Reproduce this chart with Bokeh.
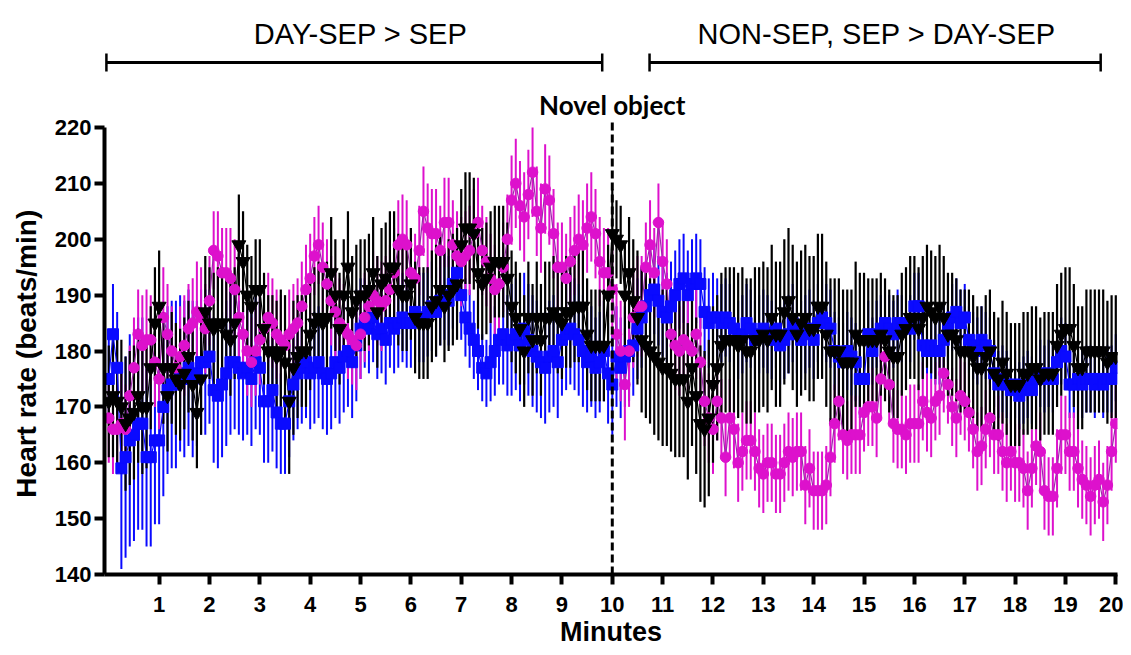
from bokeh.plotting import figure
from bokeh.models import ColumnDataSource, Range1d, FixedTicker, Label
from bokeh.embed import file_html
from bokeh.resources import INLINE

# ---------------- data ----------------
SAMPLE_SECONDS = 5
X_TICKS = list(range(1, 21))
Y_TICKS = [140, 150, 160, 170, 180, 190, 200, 210, 220]

# blue squares
BLUE = [175,
 183,177,159,161,164,165,167,167,161,161,164,164,
 170,173,174,174,176,175,177,175,176,178,178,179,
 173,172,174,176,178,178,177,176,177,175,178,177,
 171,171,173,169,167,167,171,174,176,177,178,176,
 177,178,176,175,176,178,177,179,180,178,181,184,
 185,184,186,183,184,182,185,184,185,186,185,185,
 187,186,186,187,188,187,189,190,189,192,194,190,
 186,184,182,180,177,176,178,180,182,183,181,182,
 183,181,184,182,180,179,178,177,179,180,178,182,
 183,184,183,182,180,178,179,177,178,180,176,174,
 179,177,179,180,181,184,186,188,190,191,189,187,
 186,188,190,192,193,190,192,193,192,187,185,186,
 186,185,186,185,184,182,183,185,184,182,183,184,
 183,182,184,181,182,183,185,183,182,183,184,182,
 185,186,185,184,180,179,178,180,179,178,175,175,
 183,180,183,184,185,184,183,185,184,185,184,188,
 188,181,180,181,180,180,182,184,186,187,185,186,
 182,181,180,182,181,180,176,174,175,174,173,174,
 172,173,174,173,175,176,175,176,175,178,180,179,
 174,174,175,174,175,175,174,175,174,175,175,177]
BLUE_SEM = [8,
 9,10,18,18,19,19,19,19,16,16,15,15,
 16,15,15,15,14,14,14,14,13,13,13,12,
 13,13,13,13,13,12,12,12,12,12,12,12,
 11,11,11,10,9,9,10,10,10,10,10,10,
 10,10,10,10,10,10,10,10,10,10,10,9,
 8,8,8,8,8,8,8,8,8,8,8,8,
 8,8,8,8,8,8,8,8,8,8,8,8,
 7,7,7,7,6,6,7,8,8,9,9,10,
 10,10,10,10,10,10,10,10,10,10,10,10,
 10,10,10,10,10,9,9,9,9,9,9,9,
 9,9,9,9,9,9,9,8,8,8,8,8,
 8,8,8,8,8,8,8,8,8,8,8,8,
 7,7,7,7,7,7,7,7,7,7,7,7,
 7,7,7,7,7,7,7,7,7,7,7,7,
 7,7,7,7,7,7,7,7,7,7,7,7,
 6,6,6,6,6,6,6,6,6,6,6,6,
 6,6,6,6,6,6,6,6,6,6,6,6,
 6,6,6,6,6,6,6,6,6,6,6,6,
 6,6,6,6,6,6,6,6,6,6,6,6,
 6,6,6,6,6,6,6,6,6,6,6,6]

# magenta circles
MAGENTA = [168,
 166,166,167,166,172,177,183,181,182,182,178,175,
 186,183,180,177,179,181,184,185,187,186,184,189,
 198,197,194,194,193,191,186,183,180,178,180,182,
 184,186,185,183,182,181,183,184,185,188,191,193,
 197,199,195,192,189,187,185,184,183,182,181,183,
 186,188,190,189,188,189,191,194,199,200,199,194,
 193,198,205,202,201,201,198,203,203,199,197,196,
 197,198,201,203,198,196,193,191,192,195,200,207,
 210,206,204,208,212,205,202,209,207,201,195,195,
 193,196,198,200,199,202,204,201,196,194,194,191,
 183,180,174,180,186,188,188,195,199,194,203,196,
 192,183,181,180,182,181,180,183,178,171,168,166,
 171,168,161,168,166,160,162,164,164,162,159,158,
 160,160,158,158,160,162,161,162,162,156,159,155,
 155,155,156,161,167,171,165,164,165,165,165,169,
 170,170,168,175,179,174,167,166,166,165,167,167,
 167,171,169,168,171,172,176,174,170,168,172,171,
 169,166,162,163,166,168,165,165,162,160,162,160,
 160,159,155,159,163,162,155,154,154,159,165,165,
 162,162,159,157,156,154,156,157,153,156,162,167]
MAGENTA_SEM = [8,
 8,8,9,8,9,9,8,9,9,8,8,9,
 9,9,8,8,9,9,8,8,9,9,8,8,
 7,8,8,8,9,9,8,8,8,8,8,8,
 8,8,8,8,8,8,8,8,8,8,8,8,
 7,7,8,8,8,8,8,8,8,8,8,8,
 8,8,8,8,8,8,8,8,8,8,8,8,
 8,8,8,8,8,8,8,8,8,8,8,8,
 8,8,8,8,8,8,8,8,8,8,8,8,
 8,8,8,8,8,8,8,8,8,8,8,8,
 8,8,8,8,8,8,8,8,8,8,8,8,
 9,9,10,10,9,9,9,8,8,8,7,7,
 8,8,8,8,8,8,8,8,8,8,8,8,
 7,7,7,7,7,7,7,7,7,7,7,7,
 7,7,7,7,7,7,7,7,7,7,7,7,
 7,7,7,7,7,7,7,7,7,7,7,7,
 7,7,7,7,7,7,7,7,7,7,7,7,
 7,7,7,7,7,7,7,7,7,7,7,7,
 7,7,7,7,7,7,7,7,7,7,7,7,
 7,7,7,7,7,7,7,7,7,7,7,7,
 7,7,7,7,7,7,7,7,7,7,7,7]

# black inverted triangles
BLACK = [171,
 172,171,170,167,168,169,172,170,170,177,185,188,
 177,172,177,175,174,176,179,174,169,175,187,185,
 184,185,185,183,182,185,199,196,190,188,191,191,
 184,180,180,179,180,178,171,177,179,180,180,183,
 185,186,185,186,194,190,184,190,195,187,189,190,
 190,191,194,187,192,193,195,195,191,190,190,192,
 186,185,185,185,188,189,191,188,190,191,192,199,
 202,202,201,194,192,193,195,196,196,196,193,188,
 186,184,180,186,182,186,182,186,186,187,186,185,
 187,187,188,188,188,183,181,181,181,181,190,201,
 200,199,190,194,189,186,182,181,180,179,178,177,
 177,176,175,175,175,171,177,172,167,166,168,174,
 177,181,182,182,182,181,182,180,180,182,182,183,
 182,186,183,183,187,189,186,183,185,186,184,184,
 188,188,183,180,180,180,178,178,178,183,182,182,
 182,182,182,183,182,180,179,179,183,184,186,186,
 184,186,188,187,186,188,186,183,183,182,180,180,
 180,179,177,177,179,180,176,175,178,176,174,174,
 174,176,176,177,177,175,176,176,176,181,183,184,
 184,181,177,177,180,180,180,180,180,178,179,179]
BLACK_SEM = [10,
 11,12,12,12,12,12,12,12,11,11,10,10,
 10,10,10,10,10,10,10,10,10,10,10,10,
 10,10,10,10,10,10,9,9,9,9,9,9,
 10,10,10,10,11,12,13,12,11,10,10,10,
 10,10,10,10,10,10,10,10,10,10,10,10,
 10,10,10,10,10,10,10,10,10,10,10,10,
 10,10,10,10,10,10,10,10,10,10,10,10,
 10,10,10,10,10,10,10,10,10,10,10,10,
 10,10,10,10,10,10,10,10,10,10,10,10,
 10,10,10,10,10,10,10,10,10,10,9,8,
 7,7,9,10,11,12,13,13,13,14,14,14,
 14,14,14,14,14,14,14,14,14,14,14,14,
 13,13,13,13,13,13,13,13,13,13,13,13,
 13,13,13,13,13,13,13,13,13,13,13,13,
 13,13,13,13,13,13,13,13,13,13,12,12,
 11,11,11,11,11,11,11,11,11,11,11,11,
 11,11,11,11,11,11,11,11,11,11,11,11,
 11,11,11,11,11,11,11,11,11,11,11,11,
 11,11,11,11,11,11,11,11,11,11,11,11,
 11,11,11,11,11,11,11,11,11,11,11,11]

TOP_LEFT_TEXT = "DAY-SEP > SEP"
TOP_RIGHT_TEXT = "NON-SEP, SEP > DAY-SEP"
EVENT_TEXT = "Novel object"
EVENT_TIME = 10
Y_LABEL = "Heart rate (beats/min)"
X_LABEL = "Minutes"

# ---------------- styling ----------------
C_BLUE = "#0a0aff"
C_MAG = "#dd11cc"
C_MAG_LINE = "#9a2aa8"
C_BLACK = "#000000"
FONT = "Liberation Sans"

minutes = [i * SAMPLE_SECONDS / 60.0 for i in range(len(BLUE))]

def src(vals, sems):
    return ColumnDataSource(dict(
        t=minutes, v=vals,
        lo=[a - b for a, b in zip(vals, sems)],
        hi=[a + b for a, b in zip(vals, sems)]))

s_blue = src(BLUE, BLUE_SEM)
s_mag = src(MAGENTA, MAGENTA_SEM)
s_blk = src(BLACK, BLACK_SEM)

# frame: page x 104..1117, page y 8..574 ; 50.35 px/min, 5.5875 px/unit
PX_PER_UNIT = 5.5875
Y_TOP = 241.3          # value at the top of the frame (annotation area)
DASH_TOP = 221.6       # where the event line starts

def yv(page_y):
    return 140 + (574 - page_y) / PX_PER_UNIT

p = figure(width=1123, height=655, x_range=Range1d(-0.085, 20.034),
           y_range=Range1d(140, Y_TOP),
           toolbar_location=None, output_backend="svg",
           min_border_left=104, min_border_right=6, min_border_top=8,
           min_border_bottom=81)
p.outline_line_color = None
p.grid.visible = False
p.background_fill_color = "white"
p.border_fill_color = "white"

# error bars first
for s, c, w in ((s_blue, C_BLUE, 2.0), (s_mag, C_MAG, 2.0), (s_blk, C_BLACK, 2.2)):
    p.segment(x0="t", y0="lo", x1="t", y1="hi", source=s, line_color=c, line_width=w)
# connecting lines
p.line("t", "v", source=s_blue, line_color=C_BLUE, line_width=1.2)
p.line("t", "v", source=s_mag, line_color=C_MAG_LINE, line_width=1.2)
p.line("t", "v", source=s_blk, line_color=C_BLACK, line_width=1.2)
# markers
p.scatter("t", "v", source=s_blue, marker="square", size=11,
          fill_color=C_BLUE, line_color=C_BLUE)
p.scatter("t", "v", source=s_mag, marker="circle", size=10.5,
          fill_color=C_MAG, line_color=C_MAG)
p.scatter("t", "v", source=s_blk, marker="inverted_triangle", size=14,
          fill_color=C_BLACK, line_color=C_BLACK)

# event line (novel object)
p.segment(x0=[EVENT_TIME], y0=[140], x1=[EVENT_TIME], y1=[DASH_TOP],
          line_color="black", line_width=3, line_dash="8 4")

# top brackets (annotation coordinates)
brx0 = [-0.047, 10.74]
brx1 = [9.8, 19.7]
p.segment(x0=brx0, y0=[yv(62)] * 2, x1=brx1, y1=[yv(62)] * 2,
          line_color="black", line_width=3)
ends = brx0 + brx1
p.segment(x0=ends, y0=[yv(53)] * 4, x1=ends, y1=[yv(71)] * 4,
          line_color="black", line_width=2.5)

p.add_layout(Label(x=5.0, y=yv(33), text=TOP_LEFT_TEXT, text_align="center",
                   text_baseline="alphabetic", text_font=FONT,
                   text_font_size="29px", text_color="black"))
p.add_layout(Label(x=15.25, y=yv(33), text=TOP_RIGHT_TEXT, text_align="center",
                   text_baseline="alphabetic", text_font=FONT,
                   text_font_size="29px", text_color="black"))
p.add_layout(Label(x=EVENT_TIME, y=yv(104), text=EVENT_TEXT, text_align="center",
                   text_baseline="alphabetic", text_font="Lato",
                   text_font_style="bold", text_font_size="26px",
                   text_color="black"))

for ax in (p.xaxis[0], p.yaxis[0]):
    ax.axis_line_width = 4
    ax.axis_line_color = "black"
    ax.major_tick_line_width = 4
    ax.major_tick_line_color = "black"
    ax.major_tick_out = 10
    ax.major_tick_in = 0
    ax.minor_tick_line_color = None
    ax.major_label_text_font = FONT
    ax.major_label_text_font_style = "bold"
    ax.major_label_text_font_size = "22px"
    ax.major_label_text_color = "black"
    ax.axis_label_text_font = FONT
    ax.axis_label_text_font_style = "bold"
    ax.axis_label_text_color = "black"

p.xaxis.axis_label_text_font_size = "27px"
p.yaxis.axis_label_text_font_size = "28px"
p.xaxis.ticker = FixedTicker(ticks=X_TICKS)
p.yaxis.ticker = FixedTicker(ticks=Y_TICKS)
p.yaxis.bounds = (Y_TICKS[0], Y_TICKS[-1])
p.xaxis.axis_label = X_LABEL
# the frame also holds the annotation strip above the axis, so the title is
# padded with no-break spaces to centre its visible part on the 140-220 axis
p.yaxis.axis_label = Y_LABEL + "\u00a0" * 16
p.xaxis.major_label_standoff = 12
p.yaxis.major_label_standoff = 3
p.xaxis.axis_label_standoff = 2
p.yaxis.axis_label_standoff = 10

open("out.html", "w").write(file_html(p, INLINE))
